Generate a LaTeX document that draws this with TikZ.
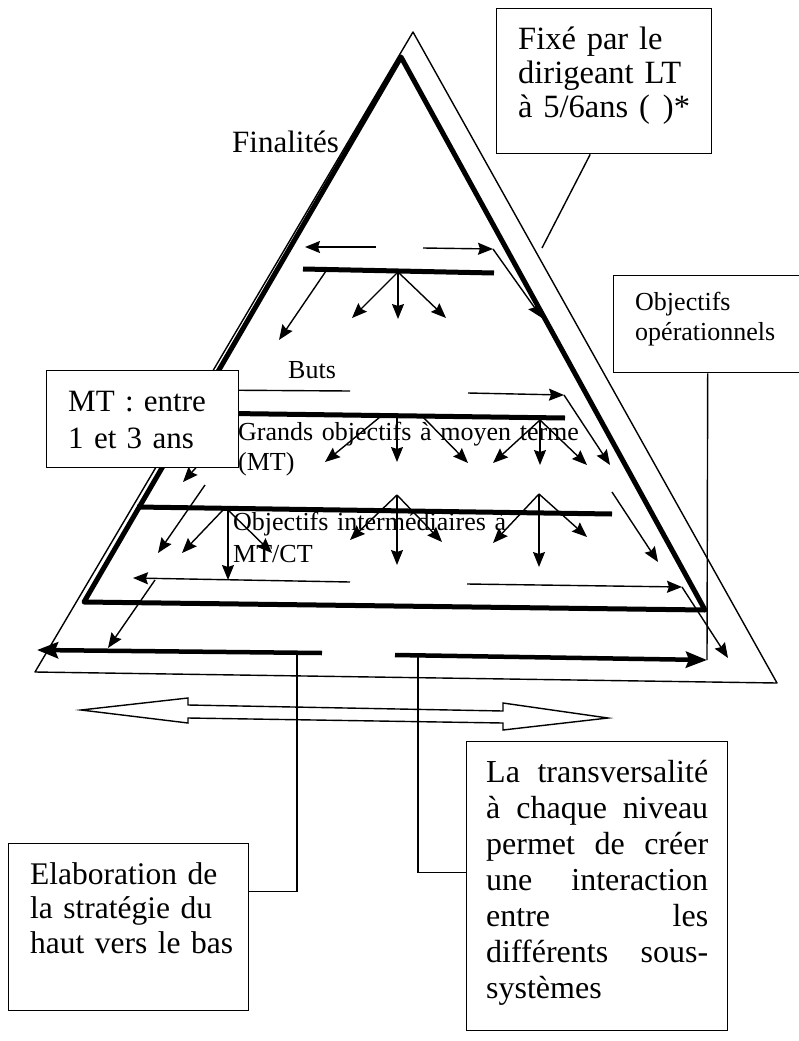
\documentclass[tikz,border=0pt]{standalone}
\usepackage{fontspec}
\setmainfont{Liberation Serif}
\usepackage{tkz-euclide}
\usetikzlibrary{arrows.meta}
\tikzset{>={Stealth[length=15pt,width=12pt,inset=2pt]}}

\begin{document}
\begin{tikzpicture}[x=1pt,y=-1pt,
    trait/.style={line width=1.4pt},
    barre/.style={line width=5pt},
    grosse/.style={line width=4.5pt,-{Stealth[length=21pt,width=16pt,inset=3pt]}},
    cadre/.style={draw,line width=1.4pt,fill=white,inner sep=0pt,anchor=north west},
    texte/.style={inner sep=0pt,anchor=base west,align=left}]
    \useasboundingbox (0,0) rectangle (798,1041);
    \tkzDefPoints{413/32/A, 35/672/B, 777/683/C, 401/57/D, 84/602/E, 705/610/F}
    \tkzDefPoints{322/653/G, 37/650/H, 395/655/I, 707/660/J, 297/653/K, 418/657/L, 542/248/M}
    \tkzDrawPolygon[trait](A,B,C)
    \tkzDrawPolygon[barre](D,E,F)
    \draw[trait,->] (376,247) -- (305,247);
    \draw[trait,->] (423,248) -- (493,249);
    \draw[trait,->] (493,249) -- (542,318);
    \draw[barre] (303,269) -- (494,273);
    \draw[trait,->] (326,271) -- (279,340);
    \draw[trait,->] (398,272) -- (352,318);
    \draw[trait,->] (398,272) -- (398,319);
    \draw[trait,->] (398,272) -- (446,318);
    \draw[trait] (350,391) -- (200,390);
    \draw[trait,->] (468,393) -- (564,395);
    \draw[trait,->] (564,395) -- (610,465);
    \draw[barre] (195,413) -- (565,418);
    \draw[trait,->] (380,417) -- (325,462);
    \draw[trait,->] (397,417) -- (397,462);
    \draw[trait,->] (423,417) -- (468,463);
    \draw[trait,->] (540,420) -- (493,463);
    \draw[trait,->] (540,420) -- (540,465);
    \draw[trait,->] (540,420) -- (587,465);
    \draw[trait,->] (212,450) -- (183,482);
    \draw[trait,->] (205,485) -- (158,553);
    \draw[barre] (137,507) -- (612,514);
    \draw[trait,->] (223,510) -- (182,553);
    \draw[trait,->] (228,510) -- (228,580);
    \draw[trait,->] (228,510) -- (272,553);
    \draw[trait,->] (397,495) -- (350,540);
    \draw[trait,->] (397,495) -- (397,565);
    \draw[trait,->] (397,495) -- (442,542);
    \draw[trait,->] (539,494) -- (493,543);
    \draw[trait,->] (539,494) -- (539,567);
    \draw[trait,->] (539,494) -- (587,537);
    \draw[trait,->] (612,492) -- (658,562);
    \draw[trait,->] (350,582) -- (133,578);
    \draw[trait,->] (155,580) -- (108,648);
    \draw[trait,->] (467,584) -- (682,587);
    \draw[trait,->] (682,587) -- (728,658);
    \draw[grosse] (G) -- (H);
    \draw[grosse] (I) -- (J);
    \draw[trait] (81,710) -- (188,698) -- (188,705) -- (503,711) -- (503,703) -- (608,718)
        -- (503,730) -- (503,723) -- (188,718) -- (188,723) -- cycle;
    \node[texte,font=\fontsize{31}{36}\selectfont] (finalites) at (232,152) {Finalités};
    \node[texte,font=\fontsize{26}{30}\selectfont] (buts) at (288,378) {Buts};
    \node[texte,font=\fontsize{26}{30}\selectfont,text width=420pt] (grands) at (238,440) {Grands objectifs à moyen terme\\(MT)};
    \node[texte,font=\fontsize{26}{32}\selectfont,text width=400pt] (interm) at (233,530) {Objectifs intermédiaires à\\MT/CT};
    \node[cadre,minimum width=192pt,minimum height=97pt] (mt) at (46,370) {};
    \node[texte,font=\fontsize{31}{37.5}\selectfont,text width=170pt] (mttxt) at (68,411) {MT : entre\\1 et 3 ans};
    \node[cadre,minimum width=215pt,minimum height=145pt] (fixe) at (496,8) {};
    \node[texte,font=\fontsize{32.5}{34}\selectfont,text width=190pt] (fixetxt) at (518,50) {Fixé par le\\dirigeant LT\\à 5/6ans (\hspace{13pt})*};
    \node[cadre,minimum width=188pt,minimum height=97pt] (oper) at (613,275) {};
    \node[texte,font=\fontsize{26}{30}\selectfont,text width=170pt] (opertxt) at (635,310) {Objectifs\\opérationnels};
    \node[cadre,minimum width=240pt,minimum height=167pt] (elab) at (8,843) {};
    \node[texte,font=\fontsize{31.5}{34.5}\selectfont,text width=220pt] (elabtxt) at (30,884) {Elaboration de\\la stratégie du\\haut vers le bas};
    \node[cadre,minimum width=261pt,minimum height=289pt] (trans) at (466,741) {};
    \node[texte,font=\fontsize{32}{36}\selectfont,text width=222pt] (transtxt) at (486,782)
        {\makebox[222pt][l]{La\hfill transversalité}\\\makebox[222pt][l]{à\hfill chaque\hfill niveau}\\
         \makebox[222pt][l]{permet\hfill de\hfill créer}\\\makebox[222pt][l]{une\hfill interaction}\\
         \makebox[222pt][l]{entre\hfill les}\\\makebox[222pt][l]{différents\hfill sous-}\\systèmes};
    \draw[trait] ([xshift=-14pt]fixe.south) -- (M);
    \draw[trait] (oper.south) -- (J);
    \draw[trait] (K) |- ([yshift=36pt]elab.east);
    \draw[trait] (L) |- ([yshift=14pt]trans.west);
\end{tikzpicture}
\end{document}
